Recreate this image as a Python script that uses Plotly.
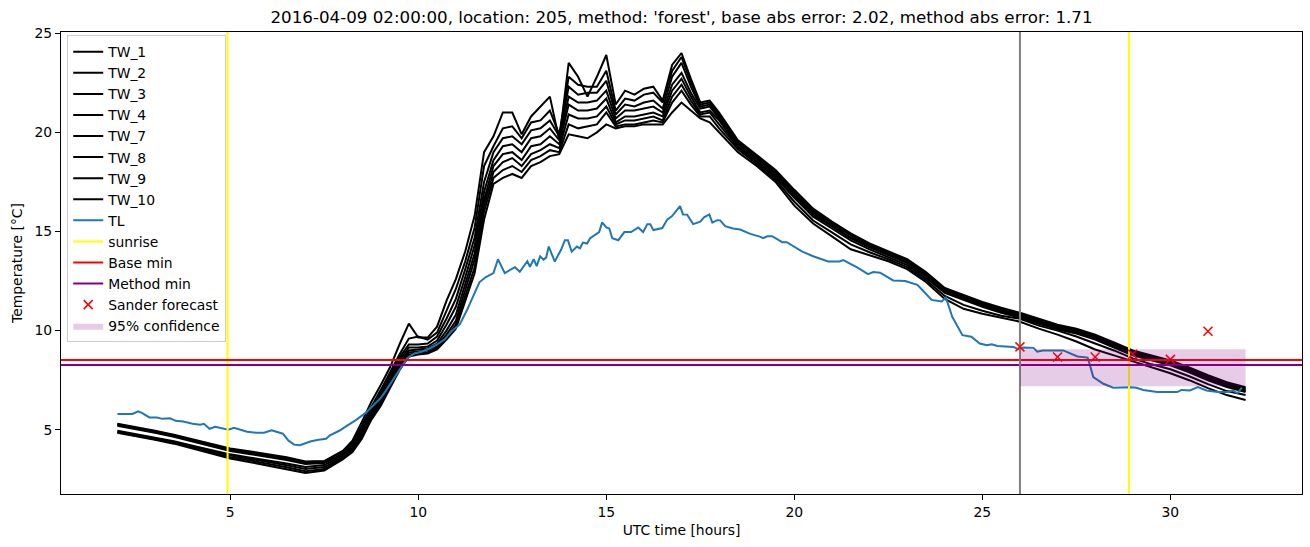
import plotly.graph_objects as go

# ---------------- data ----------------
tw_hours = [2, 2.5, 3, 3.5, 4, 4.5, 5, 5.5, 6, 6.5, 7, 7.5,
            8, 8.25, 8.5, 8.75, 9, 9.25, 9.5, 9.75,
            10, 10.25, 10.5, 10.75, 11, 11.25, 11.5, 11.75,
            12, 12.25, 12.5, 12.75, 13, 13.25, 13.5, 13.75,
            14, 14.25, 14.5, 14.75, 15, 15.25, 15.5, 15.75,
            16, 16.25, 16.5, 16.75, 17, 17.25, 17.5, 17.75, 18,
            18.5, 19, 19.5, 20, 20.5, 21, 21.5, 22,
            22.5, 23, 23.5, 24, 24.5, 25, 25.5, 26,
            26.5, 27, 27.5, 28, 28.5, 29, 29.5, 30,
            30.5, 31, 31.5, 32]

tw_1 = [5.30, 5.13, 4.95, 4.75, 4.52, 4.28, 4.06, 3.92, 3.78, 3.62, 3.40, 3.42,
        3.95, 4.45, 5.40, 6.40, 7.25, 8.15, 9.30, 10.35,
        9.65, 9.65, 10.20, 11.50, 12.60, 14.00, 15.80, 19.00,
        19.80, 21.00, 21.00, 19.90, 20.80, 21.30, 21.80, 19.60,
        23.50, 22.80, 21.80, 22.80, 23.90, 21.40, 22.10, 21.90,
        22.20, 22.30, 21.60, 23.40, 24.00, 22.70, 21.50, 21.60, 21.00,
        19.60, 18.85, 18.10, 17.10, 16.15, 15.50, 14.90, 14.40,
        14.00, 13.60, 12.95, 12.15, 11.80, 11.45, 11.15, 10.90,
        10.60, 10.30, 10.10, 9.80, 9.40, 9.00, 8.75, 8.50,
        8.15, 7.75, 7.40, 7.15]
tw_2 = [5.28, 5.10, 4.92, 4.72, 4.49, 4.25, 4.02, 3.88, 3.73, 3.57, 3.37, 3.40,
        3.88, 4.35, 5.20, 6.15, 7.00, 7.90, 8.80, 9.60,
        9.70, 9.55, 9.90, 11.00, 12.10, 13.50, 15.20, 18.30,
        19.30, 20.20, 20.30, 19.70, 20.50, 20.60, 21.10, 19.90,
        22.80, 22.40, 22.30, 22.30, 23.10, 21.10, 21.70, 21.60,
        21.90, 22.00, 21.50, 23.10, 23.80, 22.50, 21.40, 21.50, 20.90,
        19.50, 18.80, 18.00, 17.00, 16.05, 15.45, 14.85, 14.35,
        13.95, 13.55, 12.90, 12.10, 11.75, 11.40, 11.10, 10.85,
        10.55, 10.25, 10.05, 9.75, 9.35, 8.95, 8.70, 8.45,
        8.10, 7.70, 7.35, 7.10]
tw_3 = [5.25, 5.07, 4.89, 4.69, 4.46, 4.22, 3.98, 3.83, 3.68, 3.52, 3.32, 3.36,
        3.80, 4.25, 5.05, 6.00, 6.85, 7.75, 8.65, 9.30,
        9.30, 9.35, 9.70, 10.60, 11.60, 13.10, 14.70, 17.50,
        19.00, 19.70, 19.80, 19.40, 20.10, 20.20, 20.60, 19.80,
        22.30, 21.90, 22.00, 22.00, 22.60, 20.90, 21.40, 21.30,
        21.50, 21.60, 21.20, 22.80, 23.50, 22.30, 21.30, 21.40, 20.80,
        19.45, 18.70, 17.95, 16.95, 16.00, 15.40, 14.80, 14.30,
        13.90, 13.50, 12.85, 12.05, 11.70, 11.35, 11.05, 10.80,
        10.50, 10.20, 10.00, 9.70, 9.30, 8.90, 8.65, 8.40,
        8.05, 7.65, 7.30, 7.05]
tw_4 = [5.20, 5.03, 4.85, 4.65, 4.42, 4.18, 3.93, 3.78, 3.63, 3.47, 3.27, 3.32,
        3.75, 4.18, 4.95, 5.90, 6.70, 7.60, 8.50, 9.15,
        9.15, 9.20, 9.50, 10.30, 11.20, 12.70, 14.30, 17.00,
        18.60, 19.30, 19.40, 19.00, 19.70, 19.80, 20.20, 19.60,
        21.80, 21.50, 21.50, 21.60, 22.10, 20.70, 21.10, 21.10,
        21.20, 21.30, 21.00, 22.40, 23.00, 22.00, 21.20, 21.30, 20.70,
        19.40, 18.65, 17.90, 16.90, 15.95, 15.30, 14.70, 14.25,
        13.85, 13.45, 12.80, 12.00, 11.65, 11.30, 11.00, 10.75,
        10.45, 10.15, 9.95, 9.65, 9.25, 8.85, 8.60, 8.35,
        8.00, 7.60, 7.25, 7.00]
tw_7 = [4.95, 4.78, 4.60, 4.42, 4.20, 3.98, 3.76, 3.60, 3.46, 3.30, 3.12, 3.22,
        3.70, 4.10, 4.85, 5.80, 6.55, 7.45, 8.35, 9.00,
        9.05, 9.10, 9.35, 10.00, 10.80, 12.40, 13.90, 16.60,
        18.30, 18.90, 19.00, 18.60, 19.30, 19.40, 19.80, 19.40,
        21.40, 21.10, 21.10, 21.20, 21.70, 20.50, 20.80, 20.80,
        20.90, 21.00, 20.80, 22.10, 22.70, 21.80, 21.00, 21.10, 20.60,
        19.30, 18.55, 17.80, 16.80, 15.85, 15.25, 14.65, 14.20,
        13.80, 13.40, 12.75, 11.95, 11.60, 11.25, 10.95, 10.70,
        10.40, 10.10, 9.90, 9.60, 9.20, 8.80, 8.55, 8.30,
        7.95, 7.55, 7.20, 6.95]
tw_8 = [4.90, 4.74, 4.56, 4.38, 4.15, 3.92, 3.70, 3.54, 3.38, 3.21, 3.02, 3.12,
        3.62, 4.02, 4.75, 5.70, 6.45, 7.35, 8.25, 8.90,
        8.95, 9.00, 9.25, 9.80, 10.50, 12.10, 13.60, 16.30,
        18.00, 18.50, 18.70, 18.30, 18.90, 19.10, 19.40, 19.20,
        20.90, 20.70, 20.70, 20.80, 21.30, 20.40, 20.60, 20.60,
        20.70, 20.80, 20.60, 21.80, 22.40, 21.60, 20.90, 21.00, 20.40,
        19.25, 18.50, 17.70, 16.70, 15.75, 15.15, 14.55, 14.10,
        13.70, 13.30, 12.65, 11.90, 11.55, 11.20, 10.90, 10.65,
        10.35, 10.05, 9.85, 9.55, 9.15, 8.75, 8.50, 8.25,
        7.90, 7.50, 7.15, 6.90]
tw_9 = [4.88, 4.71, 4.53, 4.34, 4.10, 3.87, 3.62, 3.46, 3.29, 3.11, 2.91, 3.02,
        3.58, 3.95, 4.65, 5.60, 6.35, 7.25, 8.15, 8.80,
        8.85, 8.90, 9.15, 9.65, 10.30, 11.80, 13.20, 16.00,
        17.70, 18.10, 18.30, 18.00, 18.60, 18.80, 19.10, 19.00,
        20.40, 20.20, 20.30, 20.40, 21.00, 20.30, 20.40, 20.40,
        20.50, 20.60, 20.50, 21.50, 22.10, 21.40, 20.80, 20.80, 20.20,
        19.15, 18.40, 17.60, 16.50, 15.55, 14.95, 14.35, 13.95,
        13.60, 13.20, 12.55, 11.75, 11.30, 11.00, 10.75, 10.60,
        10.25, 10.00, 9.70, 9.35, 9.00, 8.60, 8.30, 8.05,
        7.70, 7.30, 6.95, 6.75]
tw_10 = [4.85, 4.68, 4.50, 4.30, 4.05, 3.82, 3.55, 3.38, 3.20, 3.02, 2.82, 2.95,
         3.52, 3.88, 4.55, 5.50, 6.20, 7.10, 8.00, 8.70,
         8.80, 8.85, 9.05, 9.55, 10.10, 11.50, 12.90, 15.60,
         17.40, 17.70, 17.90, 17.70, 18.30, 18.50, 18.80, 18.90,
         19.90, 19.80, 19.70, 20.00, 20.40, 20.20, 20.30, 20.30,
         20.40, 20.40, 20.40, 21.00, 21.50, 21.10, 20.70, 20.50, 20.00,
         19.00, 18.30, 17.50, 16.30, 15.40, 14.75, 14.10, 13.80,
         13.50, 13.10, 12.45, 11.60, 11.10, 10.85, 10.65, 10.45,
         10.10, 9.80, 9.45, 9.05, 8.75, 8.45, 8.15, 7.85,
         7.50, 7.10, 6.75, 6.50]

tw_names = ["TW_1", "TW_2", "TW_3", "TW_4", "TW_7", "TW_8", "TW_9", "TW_10"]
tw_series = [tw_1, tw_2, tw_3, tw_4, tw_7, tw_8, tw_9, tw_10]

tl_hours = [2.0, 2.4, 2.55, 2.65, 2.85, 3.05, 3.2, 3.4, 3.55, 3.75, 4.0, 4.2, 4.3, 4.45,
            4.6, 4.75, 4.95, 5.1, 5.25, 5.45, 5.7, 5.9, 6.1, 6.3, 6.4, 6.55, 6.7, 6.85,
            7.0, 7.15, 7.35, 7.55, 7.65, 7.9, 8.1, 8.35, 8.6, 8.8, 9.0, 9.15, 9.3, 9.5,
            9.7, 9.9, 10.1, 10.3, 10.5, 10.7, 10.9, 11.1, 11.3, 11.5, 11.63, 11.8, 12.0,
            12.12, 12.3, 12.57, 12.7, 12.9, 12.97, 13.07, 13.15, 13.24, 13.33, 13.4, 13.47,
            13.63, 13.8, 13.9, 13.98, 14.08, 14.22, 14.3, 14.38, 14.49, 14.57, 14.81, 14.89,
            15.0, 15.08, 15.16, 15.32, 15.48, 15.66, 15.85, 15.98, 16.09, 16.17, 16.25,
            16.49, 16.62, 16.75, 16.96, 17.04, 17.15, 17.31, 17.5, 17.6, 17.74, 17.82,
            17.95, 18.03, 18.16, 18.37, 18.56, 18.83, 19.1, 19.17, 19.28, 19.41, 19.68,
            19.8, 20.2, 20.5, 20.9, 21.2, 21.3, 21.67, 21.96, 22.1, 22.28, 22.63, 22.95,
            23.27, 23.4, 23.65, 23.92, 24.03, 24.2, 24.47, 24.71, 24.93, 25.12, 25.25,
            25.4, 25.83, 25.96, 26.09, 26.36, 26.46, 26.6, 27.15, 27.53, 27.8, 27.85,
            27.95, 28.22, 28.48, 28.94, 29.1, 29.28, 29.65, 30.18, 30.3, 30.52, 30.73,
            30.96, 31.26, 31.5, 31.67, 31.78, 31.9]
tl_values = [5.80, 5.80, 5.93, 5.85, 5.62, 5.62, 5.55, 5.58, 5.45, 5.42, 5.30, 5.25, 5.30, 5.05,
             5.15, 5.08, 5.00, 5.10, 5.00, 4.90, 4.85, 4.85, 4.97, 4.85, 4.80, 4.45, 4.25, 4.22,
             4.32, 4.42, 4.50, 4.55, 4.72, 4.95, 5.20, 5.50, 5.85, 6.25, 6.60, 7.00, 7.45, 8.05,
             8.60, 8.85, 8.95, 9.10, 9.30, 9.55, 10.00, 10.30, 11.05, 11.90, 12.45, 12.70, 12.90,
             13.60, 12.90, 13.20, 12.97, 13.50, 13.22, 13.60, 13.25, 13.75, 13.58, 13.68, 14.24,
             13.48, 14.09, 14.56, 14.56, 13.98, 14.24, 14.15, 14.44, 14.39, 14.66, 14.97, 15.46,
             15.20, 15.15, 14.66, 14.56, 14.97, 14.97, 15.20, 14.97, 15.37, 15.37, 15.07,
             15.17, 15.60, 15.78, 16.28, 15.86, 15.85, 15.37, 15.49, 15.71, 15.86, 15.45,
             15.57, 15.56, 15.27, 15.15, 15.10, 14.88, 14.73, 14.66, 14.76, 14.76, 14.46,
             14.46, 14.00, 13.75, 13.49, 13.49, 13.56, 13.19, 12.85, 12.95, 12.92, 12.53, 12.50,
             12.31, 12.06, 11.55, 11.47, 11.67, 10.70, 9.77, 9.69, 9.35, 9.26, 9.31,
             9.23, 9.18, 9.06, 9.15, 9.13, 8.94, 9.00, 9.00, 8.70, 8.64, 8.33,
             7.66, 7.32, 7.12, 7.15, 7.12, 7.01, 6.90, 6.90, 7.01, 6.98, 7.15,
             6.98, 6.90, 6.90, 6.98, 6.84, 7.12]

sunrise_hours = [4.93, 28.9]
forecast_hour = 26.0
base_min = 8.52
method_min = 8.26
sander_hours = [26, 27, 28, 29, 30, 31]
sander_values = [9.18, 8.67, 8.67, 8.81, 8.55, 9.97]
conf_hours = [26, 32]
conf_low = 7.2
conf_high = 9.06

title_text = ("2016-04-09 02:00:00, location: 205, method: 'forest', "
              "base abs error: 2.02, method abs error: 1.71")

# ---------------- axis ranges (matplotlib-like 5% margins) ----------------
all_x = tw_hours + tl_hours + sander_hours + conf_hours
xmin, xmax = min(all_x), max(all_x)
xpad = 0.05 * (xmax - xmin)
x_range = [xmin - xpad, xmax + xpad]
all_y = [v for s in tw_series for v in s] + tl_values + sander_values + [conf_low, conf_high]
ymin, ymax = min(all_y), max(all_y)
ypad = 0.05 * (ymax - ymin)
y_range = [ymin - ypad, ymax + ypad]

fig = go.Figure()

for name, series in zip(tw_names, tw_series):
    fig.add_trace(go.Scatter(x=tw_hours, y=series, mode="lines", name=name,
                             line=dict(color="black", width=2)))

fig.add_trace(go.Scatter(x=tl_hours, y=tl_values, mode="lines", name="TL",
                         line=dict(color="#1f77b4", width=2)))

sx, sy = [], []
for s in sunrise_hours:
    sx += [s, s, None]
    sy += [y_range[0], y_range[1], None]
fig.add_trace(go.Scatter(x=sx, y=sy, mode="lines", name="sunrise",
                         line=dict(color="#ffff00", width=2)))

fig.add_trace(go.Scatter(x=x_range, y=[base_min, base_min], mode="lines", name="Base min",
                         line=dict(color="red", width=2)))
fig.add_trace(go.Scatter(x=x_range, y=[method_min, method_min], mode="lines", name="Method min",
                         line=dict(color="#800080", width=2)))

fig.add_trace(go.Scatter(x=[forecast_hour, forecast_hour], y=y_range, mode="lines",
                         showlegend=False, line=dict(color="gray", width=2)))

fig.add_trace(go.Scatter(x=sander_hours, y=sander_values, mode="markers", name="Sander forecast",
                         marker=dict(symbol="x-thin", size=9, color="red",
                                     line=dict(color="red", width=1.5))))

fig.add_trace(go.Scatter(x=[conf_hours[0], conf_hours[1], conf_hours[1], conf_hours[0], conf_hours[0]],
                         y=[conf_low, conf_low, conf_high, conf_high, conf_low],
                         mode="lines", fill="toself", name="95% confidence",
                         fillcolor="rgba(128,0,128,0.2)", line=dict(width=0)))

axis_common = dict(showline=True, linecolor="black", linewidth=1, mirror=True,
                   ticks="outside", ticklen=5, tickwidth=1, tickcolor="black",
                   showgrid=False, zeroline=False,
                   tickfont=dict(size=13.9, color="black"))

fig.update_xaxes(range=x_range, tickvals=[5, 10, 15, 20, 25, 30],
                 title=dict(text="UTC time [hours]", font=dict(size=13.9), standoff=6),
                 **axis_common)
fig.update_yaxes(range=y_range, tickvals=[5, 10, 15, 20, 25],
                 title=dict(text="Temperature [°C]", font=dict(size=13.9), standoff=8),
                 **axis_common)

fig.update_layout(
    width=1310, height=547,
    margin=dict(l=61, r=8, t=32, b=53),
    paper_bgcolor="white", plot_bgcolor="white",
    font=dict(family="DejaVu Sans", size=13.9, color="black"),
    title=dict(text=title_text, x=0.5, xref="paper", xanchor="center",
               y=1 - 17 / 547, yref="container", yanchor="middle",
               font=dict(size=16.7, color="black")),
    legend=dict(x=0.005, y=0.993, xanchor="left", yanchor="top",
                bgcolor="rgba(255,255,255,0.8)", bordercolor="#cccccc", borderwidth=1,
                font=dict(size=13.9), itemwidth=30, tracegroupgap=0),
    showlegend=True,
)

fig.write_html("out.html")
